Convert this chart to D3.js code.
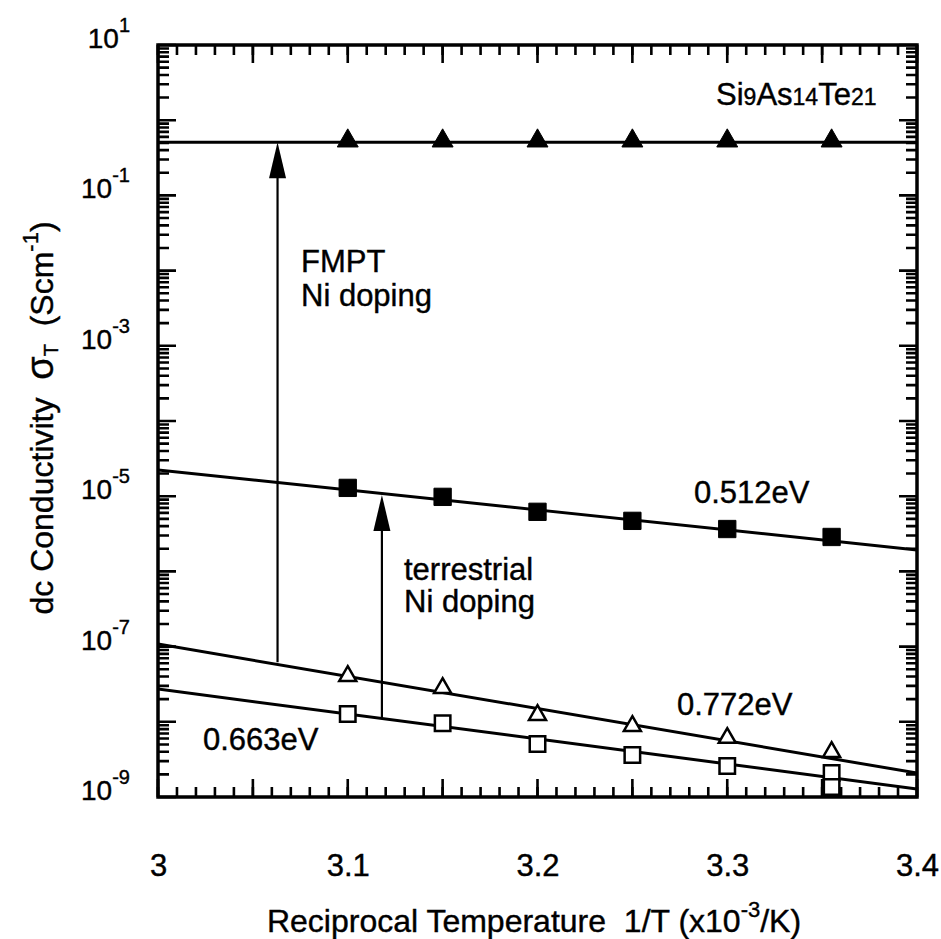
<!DOCTYPE html>
<html>
<head>
<meta charset="utf-8">
<script src="https://cdn.jsdelivr.net/npm/d3@7"></script>
<style>
body { margin: 0; background: #fff; }
text { font-family: "Liberation Sans", Arial, Helvetica, sans-serif; fill: #000; white-space: pre; stroke: #000; stroke-width: 0.4; }
</style>
</head>
<body>
<svg id="chart" width="941" height="939"></svg>
<script>
// reciprocal temperature of the measurements (x10^-3 /K)
var recipT = [3.1, 3.15, 3.2, 3.25, 3.3, 3.355];
var recipT2 = [3.1, 3.15, 3.2, 3.25, 3.3, 3.355, 3.355];

// dc conductivity (S/cm)
var fmptNi = [0.53, 0.53, 0.53, 0.53, 0.53, 0.53];                  // filled triangles
var terrNi = [1.29e-5, 9.8e-6, 6.2e-6, 4.7e-6, 3.66e-6, 2.87e-6];   // filled squares
var openTri = [4.06e-8, 2.81e-8, 1.23e-8, 8.8e-9, 6.1e-9, 3.96e-9]; // open triangles
var openSq = [1.27e-8, 9.6e-9, 5.07e-9, 3.62e-9, 2.58e-9, 2.08e-9, 1.36e-9]; // open squares

// fitted lines, ends at 1/T = 3 and 3.4
var fitT = [3, 3.4];
var fitFmpt = [0.51, 0.51];
var fitTerr = [2.23e-5, 1.93e-6];
var fit772 = [1.08e-7, 2.08e-9];
var fit663 = [2.73e-8, 1.28e-9];

// doping arrows
var arrowT = [3.063, 3.118];
var arrowFrom = [6.2e-8, 1.12e-8];
var arrowTo = [0.51, 1.04e-5];

var xLabels = [3, 3.1, 3.2, 3.3, 3.4];
var yExponents = [1, -1, -3, -5, -7, -9];

var svg = d3.select("#chart");
var plotL = 158, plotR = 917, plotT = 45, plotB = 797;

var x = d3.scaleLinear().domain([3, 3.4]).range([plotL, plotR]);
var y = d3.scaleLog().domain([1e-9, 10]).range([plotB, plotT]);

svg.append("defs").append("clipPath").attr("id", "plot")
    .append("rect")
    .attr("x", plotL).attr("y", plotT)
    .attr("width", plotR - plotL).attr("height", plotB - plotT);

// Ticks (all pointing inward)
var xMinor = d3.range(0, 41).map(function (i) { return 3 + i * 0.01; });
var xMajor = xMinor.filter(function (d, i) { return i % 5 == 0; });
var yMajor = d3.range(-9, 2).map(function (e) { return Math.pow(10, e); });
var yMinor = [];
yMajor.slice(0, -1).forEach(function (p) {
    for (var k = 2; k < 10; k++) yMinor.push(k * p);
});

// minor/major tick marks drawn as one path per side
function tickPath(values, size, pos, dir, vertical) {
    var d = values.map(function (v) {
        if (vertical) return "M" + x(v) + "," + pos + "v" + (dir * size);
        return "M" + pos + "," + y(v) + "h" + (dir * size);
    }).join("");
    svg.append("path").attr("d", d)
        .attr("fill", "none").attr("stroke", "#000").attr("stroke-width", 2.6);
}
tickPath(xMinor, 10, plotB, -1, true);
tickPath(xMajor, 18, plotB, -1, true);
tickPath(xMinor, 10, plotT, 1, true);
tickPath(xMajor, 18, plotT, 1, true);
tickPath(yMinor, 11, plotL, 1, false);
tickPath(yMajor, 18, plotL, 1, false);
tickPath(yMinor, 11, plotR, -1, false);
tickPath(yMajor, 18, plotR, -1, false);

svg.append("rect")
    .attr("x", plotL).attr("y", plotT)
    .attr("width", plotR - plotL).attr("height", plotB - plotT)
    .attr("fill", "none").attr("stroke", "#000").attr("stroke-width", 3.5);

// X tick labels
var xl = svg.append("g")
    .attr("transform", "translate(0," + plotB + ")")
    .call(d3.axisBottom(x).tickValues(xLabels).tickSize(0).tickPadding(57)
        .tickFormat(function (d) { return d3.format("~g")(d); }));
xl.select(".domain").remove();
xl.selectAll("text").attr("font-size", 31).attr("font-family", "Liberation Sans, Arial, sans-serif");

// Y tick labels 10^n
var yl = svg.append("g").selectAll("text")
    .data(yExponents)
    .join("text")
    .attr("x", 130)
    .attr("y", function (d) { return y(Math.pow(10, d)) + 3; })
    .attr("text-anchor", "end")
    .attr("font-size", 28);
yl.append("tspan").text("10");
yl.append("tspan").attr("dy", -16).attr("font-size", 20)
    .text(function (d) { return d < 0 ? "-" + (-d) : "" + d; });

// Axis titles
var xt = svg.append("text")
    .attr("x", 534).attr("y", 932)
    .attr("text-anchor", "middle").attr("font-size", 32);
xt.append("tspan").text("Reciprocal Temperature  1/T (x10");
xt.append("tspan").attr("dy", -15).attr("font-size", 22).text("-3");
xt.append("tspan").attr("dy", 15).text("/K)");

var yt = svg.append("text")
    .attr("transform", "translate(53,418) rotate(-90)")
    .attr("text-anchor", "middle").attr("font-size", 32);
yt.append("tspan").text("dc Conductivity  ");
yt.append("tspan").attr("font-size", 38).text("σ");
yt.append("tspan").attr("dy", 5).attr("font-size", 20).text("T");
yt.append("tspan").attr("dy", -5).text("  (Scm");
yt.append("tspan").attr("dy", -15).attr("font-size", 22).text("-1");
yt.append("tspan").attr("dy", 15).text(")");

// Fitted lines
var fits = [fitFmpt, fitTerr, fit772, fit663];
var line = d3.line()
    .x(function (d, i) { return x(fitT[i]); })
    .y(function (d) { return y(d); });
svg.append("g").attr("clip-path", "url(#plot)")
    .selectAll("path")
    .data(fits)
    .join("path")
    .attr("d", line)
    .attr("fill", "none")
    .attr("stroke", "#000")
    .attr("stroke-width", 3);

// Arrows
var ag = svg.append("g");
arrowT.forEach(function (t, i) {
    var ax = x(t), y0 = y(arrowFrom[i]), y1 = y(arrowTo[i]);
    var head = 36, hw = 8.5;
    ag.append("line")
        .attr("x1", ax).attr("x2", ax)
        .attr("y1", y0).attr("y2", y1 + head - 2)
        .attr("stroke", "#000").attr("stroke-width", 2.2);
    ag.append("path")
        .attr("d", "M" + ax + "," + y1 + "L" + (ax - hw) + "," + (y1 + head) + "L" + (ax + hw) + "," + (y1 + head) + "Z")
        .attr("fill", "#000");
});

// Markers
function markers(xs, ys, type, size, filled) {
    svg.append("g")
        .selectAll("path")
        .data(ys)
        .join("path")
        .attr("transform", function (d, i) { return "translate(" + x(xs[i]) + "," + y(d) + ")"; })
        .attr("d", d3.symbol().type(type).size(size))
        .attr("fill", filled ? "#000" : "#fff")
        .attr("stroke", "#000")
        .attr("stroke-width", filled ? 1 : 2.5);
}
markers(recipT, fmptNi, d3.symbolTriangle, 190, true);
markers(recipT, terrNi, d3.symbolSquare, 300, true);
markers(recipT, openTri, d3.symbolTriangle, 125, false);
markers(recipT2, openSq, d3.symbolSquare, 240, false);

// Annotations
function label(tx, ty, str) {
    svg.append("text").attr("x", tx).attr("y", ty).attr("font-size", 31).text(str);
}
label(301, 272, "FMPT");
label(301, 306, "Ni doping");
label(404, 580, "terrestrial");
label(404, 612, "Ni doping");
label(694, 503, "0.512eV");
label(677, 715, "0.772eV");
label(203, 750, "0.663eV");

var comp = svg.append("text").attr("x", 716).attr("y", 105).attr("font-size", 31);
[["Si", false], ["9", true], ["As", false], ["14", true], ["Te", false], ["21", true]].forEach(function (p) {
    comp.append("tspan").attr("font-size", p[1] ? 23 : 31).text(p[0]);
});
</script>
</body>
</html>
